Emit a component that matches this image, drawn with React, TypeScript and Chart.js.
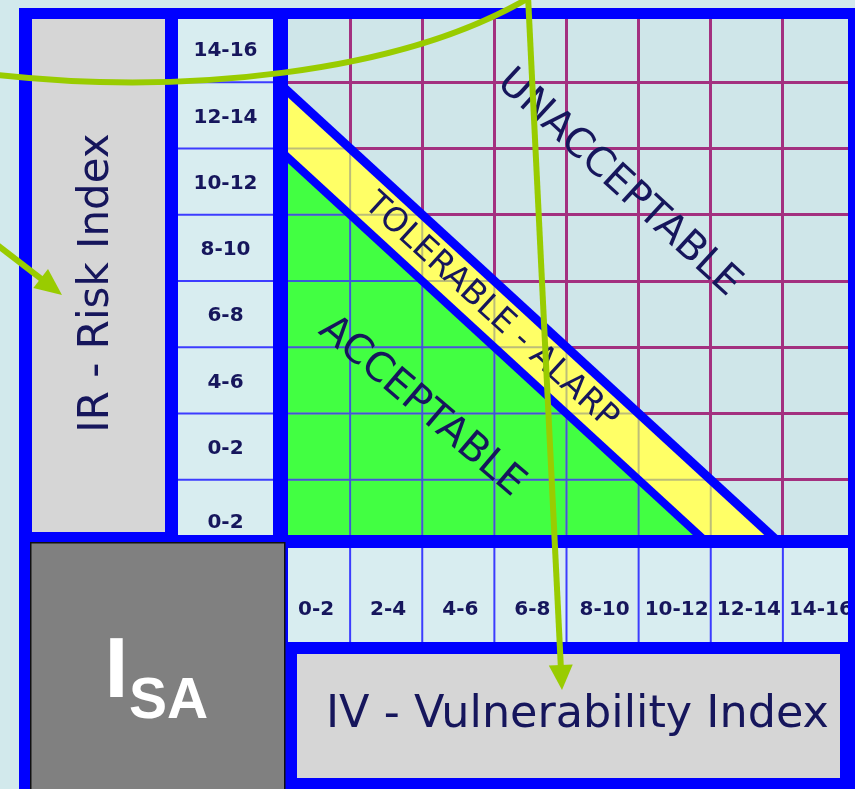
import { useEffect, useRef } from "react";
import { Chart, registerables } from "chart.js";

Chart.register(...registerables);

// ---- data ----
const X_LABELS = ["0-2", "2-4", "4-6", "6-8", "8-10", "10-12", "12-14", "14-16"];
// bottom -> top, as printed in the original (it repeats "0-2")
const Y_LABELS = ["0-2", "0-2", "4-6", "6-8", "8-10", "10-12", "12-14", "14-16"];
const GRID_STEP = 2;
const AXIS_MAX = 16;
const ACCEPTABLE_EDGE = [{ x: 0, y: 12 }, { x: 12, y: 0 }];
const ALARP_EDGE = [{ x: 0, y: 14 }, { x: 14, y: 0 }];
const ZONE_NAMES = ["ACCEPTABLE", "TOLERABLE - ALARP", "UNACCEPTABLE"];
const AXIS_TITLES = ["IV - Vulnerability Index", "IR - Risk Index"];

const BLUE = "#0000ff";
const NAVY = "#16165c";
const GREEN_ARROW = "#99cc00";

export default function App() {
  const ref = useRef<HTMLCanvasElement>(null);

  useEffect(() => {
    const canvas = ref.current!;
    const GREEN_INDEX = 2;

    const decor = {
      id: "decor",
      beforeDraw(chart: any) {
        const { ctx, chartArea: a } = chart;
        const xs = chart.scales.x;
        const ys = chart.scales.y;
        ctx.save();
        ctx.fillStyle = "#d2e9ec";
        ctx.fillRect(0, 0, 855, 789);
        ctx.fillStyle = BLUE;
        ctx.fillRect(19, 8, 836, 781);
        // IR box
        ctx.fillStyle = "#d6d6d6";
        ctx.fillRect(32, 19, 133, 513);
        // y label column
        ctx.fillStyle = "#d8edf0";
        ctx.fillRect(178, 19, 95, 516);
        ctx.strokeStyle = "#3c3cff";
        ctx.lineWidth = 2;
        for (let v = GRID_STEP; v < AXIS_MAX; v += GRID_STEP) {
          const py = ys.getPixelForValue(v);
          ctx.beginPath();
          ctx.moveTo(178, py);
          ctx.lineTo(273, py);
          ctx.stroke();
        }
        // x label row
        ctx.fillStyle = "#d8edf0";
        ctx.fillRect(288, 548, 560, 94);
        for (let v = GRID_STEP; v < AXIS_MAX; v += GRID_STEP) {
          const px = xs.getPixelForValue(v);
          ctx.beginPath();
          ctx.moveTo(px, 547);
          ctx.lineTo(px, 642);
          ctx.stroke();
        }
        // IV box
        ctx.fillStyle = "#d6d6d6";
        ctx.fillRect(297, 654, 543, 124);
        // matrix background
        ctx.fillStyle = "#cfe6e9";
        ctx.fillRect(a.left, a.top, a.right - a.left, a.bottom - a.top);
        // tick labels
        ctx.fillStyle = NAVY;
        ctx.font = 'bold 20px "DejaVu Sans"';
        ctx.textAlign = "center";
        ctx.textBaseline = "middle";
        Y_LABELS.forEach((t, i) => ctx.fillText(t, 225.5, ys.getPixelForValue(i * GRID_STEP + GRID_STEP / 2) + (i === 0 ? 10 : 2)));
        X_LABELS.forEach((t, i) => ctx.fillText(t, xs.getPixelForValue(i * GRID_STEP + GRID_STEP / 2) + 2, 610));
        // axis titles
        ctx.textBaseline = "alphabetic";
        ctx.save();
        ctx.translate(108, 283);
        ctx.rotate(-Math.PI / 2);
        ctx.font = '42px "DejaVu Sans"';
        ctx.fillText(AXIS_TITLES[1], 0, 0);
        ctx.restore();
        ctx.textAlign = "left";
        ctx.font = '44.5px "DejaVu Sans"';
        ctx.fillText(AXIS_TITLES[0], 326, 727);
        ctx.restore();
      },
      afterDatasetDraw(chart: any, args: any) {
        if (args.index !== GREEN_INDEX) return;
        const { ctx, chartArea: a } = chart;
        const xs = chart.scales.x;
        const ys = chart.scales.y;
        const poly = (pts: { x: number; y: number }[]) => {
          ctx.beginPath();
          pts.forEach((p, i) => {
            const X = xs.getPixelForValue(p.x);
            const Y = ys.getPixelForValue(p.y);
            if (i) ctx.lineTo(X, Y);
            else ctx.moveTo(X, Y);
          });
          ctx.closePath();
        };
        const grid = (color: string, w: number) => {
          ctx.strokeStyle = color;
          ctx.lineWidth = w;
          for (let v = 0; v <= AXIS_MAX; v += GRID_STEP) {
            const px = xs.getPixelForValue(v);
            const py = ys.getPixelForValue(v);
            ctx.beginPath();
            ctx.moveTo(px, a.top);
            ctx.lineTo(px, a.bottom);
            ctx.moveTo(a.left, py);
            ctx.lineTo(a.right, py);
            ctx.stroke();
          }
        };
        ctx.save();
        poly([{ x: 0, y: 0 }, ...ALARP_EDGE]);
        ctx.clip();
        grid("#bdbd78", 2);
        ctx.restore();
        ctx.save();
        poly([{ x: 0, y: 0 }, ...ACCEPTABLE_EDGE]);
        ctx.clip();
        grid("#3a5ad8", 2);
        ctx.restore();
      },
      afterDatasetsDraw(chart: any) {
        const { ctx } = chart;
        const xs = chart.scales.x;
        const ys = chart.scales.y;
        ctx.save();
        // blue frame around matrix
        ctx.fillStyle = BLUE;
        ctx.fillRect(19, 8, 836, 11);
        ctx.fillRect(273, 8, 15, 540);
        ctx.fillRect(848, 8, 7, 781);
        ctx.fillRect(273, 535, 582, 13);
        // ISA box
        ctx.fillStyle = "#808080";
        ctx.fillRect(30, 542, 255, 250);
        ctx.strokeStyle = "#111";
        ctx.lineWidth = 1.5;
        ctx.strokeRect(30.75, 542.75, 254, 250);
        ctx.fillStyle = "#ffffff";
        ctx.textAlign = "left";
        ctx.textBaseline = "alphabetic";
        ctx.font = 'bold 86px "Liberation Sans"';
        ctx.fillText("I", 104.5, 697);
        ctx.font = 'bold 57px "Liberation Sans"';
        ctx.fillText("SA", 129, 718);
        // zone names
        const ang = Math.atan2(
          ys.getPixelForValue(0) - ys.getPixelForValue(14),
          xs.getPixelForValue(14) - xs.getPixelForValue(0)
        );
        const zone = (t: string, x: number, y: number, size: number, a: number) => {
          ctx.save();
          ctx.translate(xs.getPixelForValue(x), ys.getPixelForValue(y));
          ctx.rotate(a);
          ctx.font = `${size}px "DejaVu Sans"`;
          ctx.textAlign = "center";
          ctx.textBaseline = "middle";
          ctx.fillStyle = NAVY;
          ctx.fillText(t, 0, 0);
          ctx.restore();
        };
        zone(ZONE_NAMES[2], 9.45, 10.95, 40, ang);
        zone(ZONE_NAMES[1], 5.9, 7.08, 33, ang);
        zone(ZONE_NAMES[0], 3.98, 4.2, 40, ang - 0.04);

        // green arrows
        ctx.strokeStyle = GREEN_ARROW;
        ctx.fillStyle = GREEN_ARROW;
        ctx.lineWidth = 6;
        ctx.lineCap = "butt";
        ctx.beginPath();
        ctx.moveTo(-2, 75);
        ctx.bezierCurveTo(180, 95, 400, 75, 532, -4);
        ctx.stroke();
        const head = (tx: number, ty: number, dx: number, dy: number, len: number, half: number) => {
          const n = Math.hypot(dx, dy);
          const ux = dx / n;
          const uy = dy / n;
          const bx = tx - ux * len;
          const by = ty - uy * len;
          ctx.beginPath();
          ctx.moveTo(tx, ty);
          ctx.lineTo(bx - uy * half, by + ux * half);
          ctx.lineTo(bx + uy * half, by - ux * half);
          ctx.closePath();
          ctx.fill();
          return [bx + ux * 2, by + uy * 2];
        };
        // left arrow
        let b = head(62, 295, 62, 48, 27, 12);
        ctx.beginPath();
        ctx.moveTo(-4, 244);
        ctx.lineTo(b[0], b[1]);
        ctx.stroke();
        // down arrow
        b = head(562, 690, 34, 690, 25, 12);
        ctx.beginPath();
        ctx.moveTo(528, -4);
        ctx.lineTo(b[0], b[1]);
        ctx.stroke();
        ctx.restore();
      },
    };

    const chart = new Chart(canvas, {
      type: "scatter",
      data: {
        datasets: [
          {
            data: ALARP_EDGE,
            showLine: true,
            borderColor: BLUE,
            borderWidth: 9,
            pointRadius: 0,
            fill: false,
            order: 0,
          },
          {
            data: ACCEPTABLE_EDGE,
            showLine: true,
            borderColor: BLUE,
            borderWidth: 8,
            pointRadius: 0,
            fill: false,
            order: 0,
          },
          {
            data: ACCEPTABLE_EDGE,
            showLine: true,
            borderWidth: 0,
            borderColor: "rgba(0,0,0,0)",
            backgroundColor: "#42ff42",
            pointRadius: 0,
            fill: "origin",
            order: 1,
          },
          {
            data: ALARP_EDGE,
            showLine: true,
            borderWidth: 0,
            borderColor: "rgba(0,0,0,0)",
            backgroundColor: "#ffff66",
            pointRadius: 0,
            fill: "origin",
            order: 2,
          },
        ],
      },
      options: {
        responsive: false,
        animation: false,
        devicePixelRatio: 1,
        layout: { padding: { left: 278, right: 0, top: 16, bottom: 243 } },
        plugins: { legend: { display: false }, tooltip: { enabled: false } },
        events: [],
        scales: {
          x: {
            type: "linear",
            min: 0,
            max: AXIS_MAX,
            ticks: { display: false, stepSize: GRID_STEP },
            grid: { color: "#a3307f", lineWidth: 3, drawTicks: false },
            border: { display: false },
            afterFit: (s: any) => {
              s.height = 0;
            },
          },
          y: {
            type: "linear",
            min: 0,
            max: AXIS_MAX,
            ticks: { display: false, stepSize: GRID_STEP },
            grid: { color: "#a3307f", lineWidth: 3, drawTicks: false },
            border: { display: false },
            afterFit: (s: any) => {
              s.width = 0;
            },
          },
        },
      },
      plugins: [decor],
    } as any);
    return () => chart.destroy();
  }, []);

  return (
    <div style={{ position: "absolute", left: 0, top: 0, width: 855, height: 789 }}>
      <canvas ref={ref} width={855} height={789} style={{ display: "block", width: 855, height: 789 }} />
    </div>
  );
}
